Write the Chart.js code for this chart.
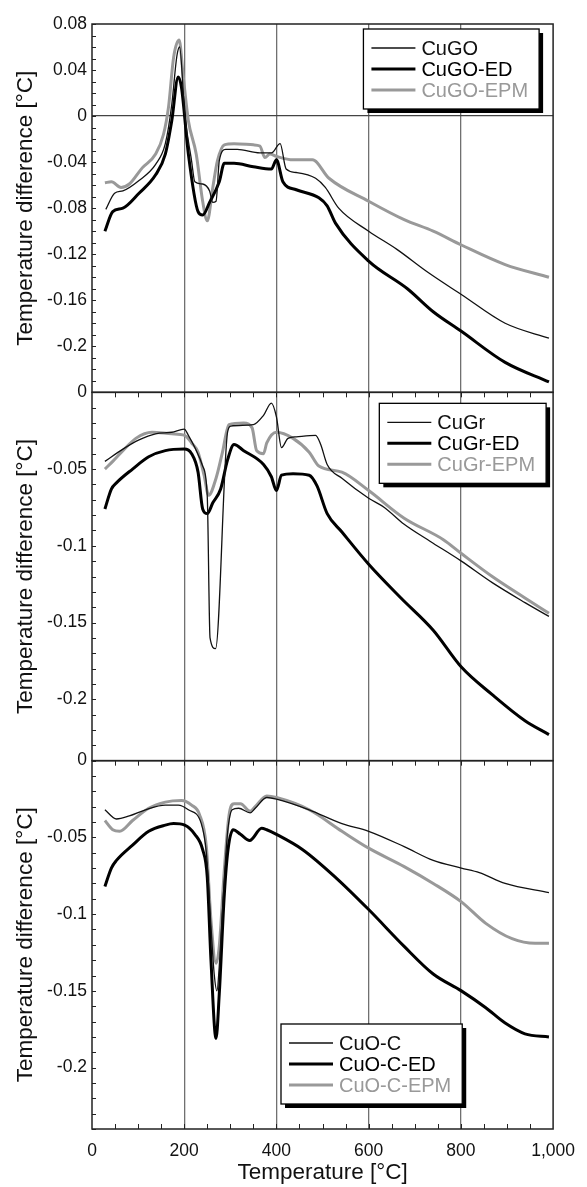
<!DOCTYPE html>
<html>
<head>
<meta charset="utf-8">
<title>Temperature difference</title>
<script src="https://cdn.jsdelivr.net/npm/chart.js@4"></script>
<style>
  html, body { margin: 0; padding: 0; background: #fff; }
  #wrap { position: relative; width: 587px; height: 1187px; }
</style>
</head>
<body>
<div id="wrap"><canvas id="dta"></canvas></div>
<script>
// panel 1 - CuGO
const cugoT = [30, 49, 67, 102, 138, 159, 173, 184, 190, 201, 216, 223, 240, 255, 262, 269, 276, 290, 315, 364, 389, 408, 421, 443, 485, 506, 535, 600, 662, 726, 801, 896, 991];
const cugoV = [-0.081, -0.067, -0.065, -0.056, -0.042, -0.024, 0.010, 0.052, 0.060, 0.002, -0.039, -0.057, -0.059, -0.065, -0.075, -0.074, -0.039, -0.029, -0.029, -0.032, -0.032, -0.024, -0.046, -0.049, -0.054, -0.062, -0.080, -0.100, -0.116, -0.135, -0.155, -0.180, -0.193];
const cugoEdT = [28, 45, 67, 102, 138, 159, 173, 187, 194, 209, 230, 240, 255, 276, 287, 308, 350, 389, 400, 414, 443, 492, 510, 528, 600, 684, 740, 801, 896, 991];
const cugoEdV = [-0.100, -0.083, -0.080, -0.067, -0.051, -0.033, -0.004, 0.034, 0.025, -0.033, -0.083, -0.086, -0.075, -0.057, -0.041, -0.041, -0.044, -0.046, -0.038, -0.057, -0.064, -0.071, -0.078, -0.093, -0.126, -0.150, -0.170, -0.187, -0.214, -0.231];
const cugoEpmT = [28, 42, 63, 81, 109, 138, 155, 166, 177, 189, 198, 209, 226, 240, 250, 262, 272, 287, 308, 350, 364, 375, 386, 400, 436, 478, 514, 600, 677, 740, 801, 896, 991];
const cugoEpmV = [-0.058, -0.057, -0.062, -0.059, -0.045, -0.033, -0.016, 0.008, 0.051, 0.066, 0.034, -0.004, -0.033, -0.074, -0.091, -0.062, -0.039, -0.025, -0.024, -0.025, -0.026, -0.036, -0.033, -0.035, -0.038, -0.038, -0.054, -0.074, -0.090, -0.100, -0.112, -0.129, -0.140];

// panel 2 - CuGr
const cugrT = [28, 67, 102, 138, 173, 200, 209, 223, 240, 250, 256, 268, 294, 301, 350, 372, 389, 400, 411, 425, 443, 485, 496, 510, 542, 600, 634, 677, 733, 801, 868, 939, 991];
const cugrV = [-0.045, -0.037, -0.031, -0.027, -0.026, -0.024, -0.028, -0.036, -0.048, -0.068, -0.160, -0.167, -0.026, -0.022, -0.021, -0.015, -0.007, -0.016, -0.036, -0.030, -0.029, -0.028, -0.034, -0.047, -0.056, -0.069, -0.075, -0.086, -0.097, -0.110, -0.124, -0.137, -0.146];
const cugrEdT = [28, 42, 53, 88, 123, 159, 200, 216, 230, 240, 250, 262, 279, 294, 308, 329, 372, 389, 400, 411, 436, 471, 488, 510, 542, 600, 670, 740, 801, 868, 939, 991];
const cugrEdV = [-0.076, -0.063, -0.059, -0.050, -0.042, -0.038, -0.037, -0.040, -0.052, -0.076, -0.079, -0.072, -0.063, -0.044, -0.034, -0.038, -0.047, -0.055, -0.064, -0.054, -0.053, -0.054, -0.061, -0.079, -0.091, -0.112, -0.134, -0.155, -0.179, -0.197, -0.214, -0.223];
const cugrEpmT = [28, 45, 67, 95, 130, 173, 201, 216, 230, 243, 253, 269, 283, 297, 329, 347, 357, 372, 379, 400, 436, 471, 492, 542, 600, 677, 762, 801, 868, 939, 991];
const cugrEpmV = [-0.050, -0.045, -0.038, -0.030, -0.026, -0.027, -0.028, -0.033, -0.039, -0.054, -0.067, -0.056, -0.039, -0.021, -0.020, -0.023, -0.038, -0.040, -0.033, -0.026, -0.030, -0.039, -0.048, -0.052, -0.064, -0.082, -0.096, -0.105, -0.120, -0.134, -0.144];

// panel 3 - CuO-C
const cuocT = [28, 53, 81, 116, 159, 187, 209, 237, 248, 258, 265, 271, 276, 285, 294, 304, 318, 343, 354, 379, 400, 471, 542, 600, 677, 740, 801, 840, 896, 991];
const cuocV = [-0.032, -0.038, -0.036, -0.032, -0.029, -0.029, -0.032, -0.041, -0.060, -0.108, -0.139, -0.150, -0.134, -0.087, -0.047, -0.032, -0.031, -0.034, -0.031, -0.024, -0.025, -0.032, -0.041, -0.046, -0.056, -0.065, -0.070, -0.073, -0.080, -0.086];
const cuocEdT = [28, 42, 53, 88, 123, 159, 177, 201, 223, 240, 250, 258, 269, 276, 287, 295, 306, 322, 342, 368, 379, 400, 457, 528, 600, 677, 740, 801, 854, 896, 939, 991];
const cuocEdV = [-0.082, -0.070, -0.065, -0.055, -0.046, -0.042, -0.041, -0.042, -0.048, -0.058, -0.076, -0.130, -0.181, -0.152, -0.087, -0.058, -0.045, -0.048, -0.052, -0.044, -0.045, -0.048, -0.058, -0.076, -0.097, -0.121, -0.139, -0.150, -0.161, -0.171, -0.178, -0.180];
const cuocEpmT = [28, 45, 60, 88, 123, 159, 194, 216, 233, 248, 258, 269, 276, 287, 297, 308, 322, 343, 354, 379, 400, 471, 542, 600, 677, 740, 801, 854, 911, 961, 991];
const cuocEpmV = [-0.039, -0.045, -0.046, -0.039, -0.031, -0.027, -0.026, -0.029, -0.035, -0.056, -0.104, -0.132, -0.121, -0.071, -0.036, -0.028, -0.028, -0.033, -0.030, -0.023, -0.024, -0.032, -0.046, -0.057, -0.069, -0.080, -0.092, -0.106, -0.116, -0.119, -0.119];

const xTicks = [0, 200, 400, 600, 800, 1000];
const yTitle = 'Temperature difference [°C]';
const xTitle = 'Temperature [°C]';

const FONT = "'Liberation Sans', Arial, Helvetica, sans-serif";
Chart.defaults.font.family = FONT;
Chart.defaults.color = '#111';

function pts(t, v) {
    return t.map((x, i) => ({ x: x, y: v[i] }));
}

// thin black, thick black, thick grey
function serie(label, t, v, kind, axis) {
    const styles = {
        thin: { color: '#111111', width: 1.3 },
        thick: { color: '#000000', width: 3 },
        grey: { color: '#999999', width: 3 }
    };
    return {
        label: label,
        data: pts(t, v),
        borderColor: styles[kind].color,
        borderWidth: styles[kind].width,
        pointRadius: 0,
        fill: false,
        cubicInterpolationMode: 'monotone',
        xAxisID: 'x',
        yAxisID: axis
    };
}

function yLabel(v) {
    if (v < -0.215) return '';
    return String(Math.round(v * 100) / 100);
}

function yScale(min, max, step, showZero) {
    return {
        type: 'linear',
        position: 'left',
        stack: 'panels',
        stackWeight: 1,
        min: min,
        max: max,
        border: { display: false },
        grid: {
            display: showZero,
            drawTicks: false,
            lineWidth: 1.2,
            color: ctx => (ctx.tick && ctx.tick.value === 0 ? '#444' : 'rgba(0,0,0,0)')
        },
        ticks: {
            stepSize: step,
            autoSkip: false,
            padding: 5,
            color: '#111',
            font: { size: 17.5 },
            callback: yLabel
        },
        title: {
            display: true,
            text: yTitle,
            color: '#111',
            font: { size: 22.5 },
            padding: { top: 12, bottom: 0 }
        },
        afterFit: s => { s.width = 92; }
    };
}

// frames around each panel plus the small inward ticks
const panelFrames = {
    id: 'panelFrames',
    afterDatasetsDraw(chart, args, opts) {
        const { ctx, chartArea: a, scales } = chart;
        const xs = scales.x;
        ctx.save();
        ctx.strokeStyle = '#222';
        ctx.lineWidth = 1;
        opts.panels.forEach(id => {
            const s = scales[id];
            const k0 = Math.round(s.min * 100), k1 = Math.round(s.max * 100);
            ctx.beginPath();
            for (let k = k0; k <= k1; k++) {
                const y = Math.round(s.getPixelForValue(k / 100)) + 0.5;
                ctx.moveTo(a.left, y);
                ctx.lineTo(a.left + 4, y);
            }
            ctx.stroke();
        });
        opts.xTickEdges.forEach(([id, edge]) => {
            const s = scales[id];
            const y0 = edge === 'top' ? s.top : s.bottom;
            const dir = edge === 'top' ? 1 : -1;
            ctx.beginPath();
            for (let v = 50; v < 1000; v += 50) {
                const x = Math.round(xs.getPixelForValue(v)) + 0.5;
                ctx.moveTo(x, y0);
                ctx.lineTo(x, y0 + dir * 5);
            }
            ctx.stroke();
        });
        ctx.lineWidth = 1.5;
        opts.panels.forEach(id => {
            const s = scales[id];
            ctx.strokeRect(a.left, s.top, a.right - a.left, s.bottom - s.top);
        });
        ctx.restore();
    }
};

// boxed legends with a drop shadow, one per panel
const panelLegends = {
    id: 'panelLegends',
    afterDraw(chart, args, opts) {
        const { ctx, chartArea: a } = chart;
        opts.boxes.forEach(b => {
            const sets = chart.data.datasets.filter(d => d.yAxisID === b.scale);
            const s = chart.scales[b.scale];
            ctx.save();
            ctx.font = '20px ' + FONT;
            const textW = Math.max(...sets.map(d => ctx.measureText(d.label).width));
            const w = 58 + textW + 11;
            const h = 80;
            const left = b.right !== undefined ? a.right - b.right - w : a.left + b.left;
            const top = b.bottom !== undefined ? s.bottom - b.bottom - h : s.top + b.top;
            ctx.fillStyle = '#000';
            ctx.fillRect(left + 4, top + 4, w, h);
            ctx.fillStyle = '#fff';
            ctx.fillRect(left, top, w, h);
            ctx.strokeStyle = '#000';
            ctx.lineWidth = 1.3;
            ctx.strokeRect(left, top, w, h);
            sets.forEach((d, i) => {
                const y = top + 19 + i * 21;
                ctx.beginPath();
                ctx.moveTo(left + 8, y);
                ctx.lineTo(left + 52, y);
                ctx.strokeStyle = d.borderColor;
                ctx.lineWidth = d.borderWidth;
                ctx.stroke();
                ctx.fillStyle = d.borderColor;
                ctx.textBaseline = 'middle';
                ctx.textAlign = 'left';
                ctx.fillText(d.label, left + 58, y + 1);
            });
            ctx.restore();
        });
    }
};

document.addEventListener('DOMContentLoaded', () => {
    const ctx = document.getElementById('dta').getContext('2d');

    new Chart(ctx, {
        type: 'line',
        data: {
            datasets: [
                serie('CuGO', cugoT, cugoV, 'thin', 'yA'),
                serie('CuGO-ED', cugoEdT, cugoEdV, 'thick', 'yA'),
                serie('CuGO-EPM', cugoEpmT, cugoEpmV, 'grey', 'yA'),
                serie('CuGr', cugrT, cugrV, 'thin', 'yB'),
                serie('CuGr-ED', cugrEdT, cugrEdV, 'thick', 'yB'),
                serie('CuGr-EPM', cugrEpmT, cugrEpmV, 'grey', 'yB'),
                serie('CuO-C', cuocT, cuocV, 'thin', 'yC'),
                serie('CuO-C-ED', cuocEdT, cuocEdV, 'thick', 'yC'),
                serie('CuO-C-EPM', cuocEpmT, cuocEpmV, 'grey', 'yC')
            ]
        },
        options: {
            responsive: true,
            maintainAspectRatio: false,
            animation: false,
            events: [],
            layout: { padding: { top: 24, right: 25, bottom: 0, left: 0 } },
            plugins: {
                legend: { display: false },
                tooltip: { enabled: false },
                panelFrames: {
                    panels: ['yA', 'yB', 'yC'],
                    xTickEdges: [['yB', 'top'], ['yC', 'top'], ['yC', 'bottom']]
                },
                panelLegends: {
                    boxes: [
                        { scale: 'yA', right: 14, top: 5 },
                        { scale: 'yB', right: 7, top: 11 },
                        { scale: 'yC', left: 189, bottom: 25 }
                    ]
                }
            },
            scales: {
                x: {
                    type: 'linear',
                    position: 'bottom',
                    min: 0,
                    max: 1000,
                    border: { display: false },
                    grid: {
                        drawTicks: false,
                        lineWidth: 1.3,
                        color: ctx => {
                            const v = ctx.tick ? ctx.tick.value : 0;
                            return (v > 0 && v < 1000) ? '#707070' : 'rgba(0,0,0,0)';
                        }
                    },
                    afterBuildTicks: s => { s.ticks = xTicks.map(v => ({ value: v })); },
                    ticks: {
                        autoSkip: false,
                        maxRotation: 0,
                        padding: 12,
                        color: '#111',
                        font: { size: 17.5 },
                        callback: v => Number(v).toLocaleString('en-US')
                    },
                    title: {
                        display: true,
                        text: xTitle,
                        color: '#111',
                        font: { size: 22.5 },
                        padding: { top: 0, bottom: 0.5 }
                    },
                    afterFit: s => { s.height = 58; }
                },
                // last one defined ends up on top of the stack
                yC: yScale(-0.24, 0, 0.05, false),
                yB: yScale(-0.24, 0, 0.05, false),
                yA: yScale(-0.24, 0.08, 0.04, true)
            }
        },
        plugins: [panelFrames, panelLegends]
    });
});
</script>
</body>
</html>
